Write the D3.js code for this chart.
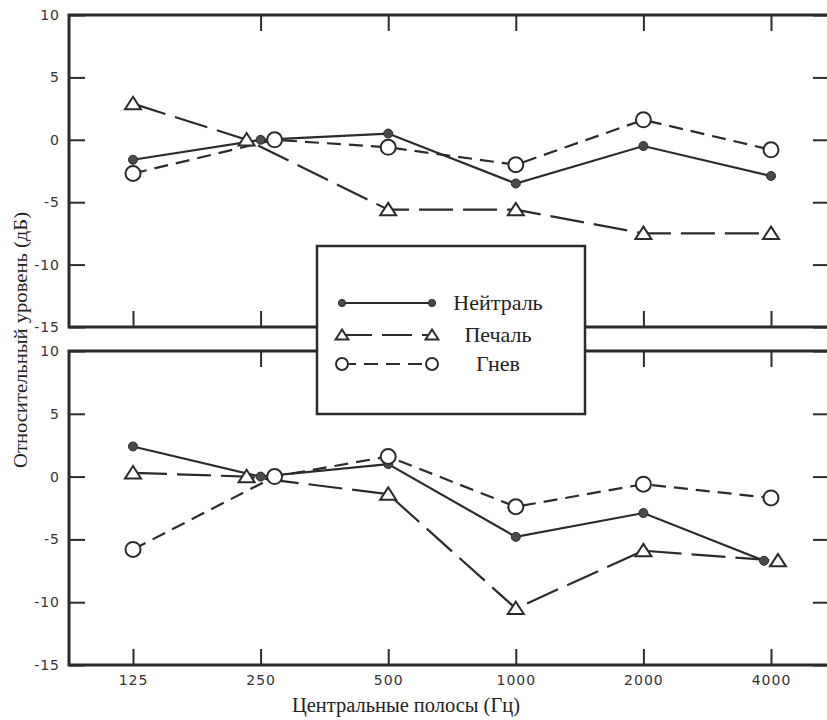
<!DOCTYPE html>
<html>
<head>
<meta charset="utf-8">
<script src="https://cdn.jsdelivr.net/npm/d3@7"></script>
<style>
  body { margin: 0; background: #fff; }
  svg { display: block; }
  .tick text { font-family: "DejaVu Sans", sans-serif; font-size: 14px; fill: #333; letter-spacing: 1px; }
  .ttl { font-family: "Liberation Serif", "Times New Roman", serif; fill: #222; }
</style>
</head>
<body>
<div id="chart"></div>
<script>
// частоты центральных полос (Гц)
var freqs = [125, 250, 500, 1000, 2000, 4000];
var yTicks = [-15, -10, -5, 0, 5, 10];
var seriesNames = ["Нейтраль", "Печаль", "Гнев"];

// верхняя панель, дБ
var topNeutral = [-1.6, 0, 0.5, -3.5, -0.5, -2.9];
var topSad     = [2.9, 0, -5.6, -5.6, -7.5, -7.5];
var topAnger   = [-2.7, 0, -0.6, -2.0, 1.6, -0.8];

// нижняя панель, дБ
var botNeutral = [2.4, 0, 1.0, -4.8, -2.9, -6.7];
var botSad     = [0.3, 0, -1.4, -10.5, -5.9, -6.7];
var botAnger   = [-5.8, 0, 1.6, -2.4, -0.6, -1.7];

var W = 827, H = 720;
var left = 69, right = 830;
var ink = "#2b2b2b";

// стиль серий
var styles = {
    "Нейтраль": {dash: null, marker: "dot"},
    "Печаль": {dash: "34,10", marker: "tri"},
    "Гнев": {dash: "14,8", marker: "ring"}
};
// порядок, в котором раздвигаются совпадающие точки
var dodgeOrder = {
    250: ["Печаль", "Нейтраль", "Гнев"],
    4000: ["Нейтраль", "Печаль", "Гнев"]
};

var svg = d3.select("#chart").append("svg")
        .attr("width", W)
        .attr("height", H);

var x = d3.scaleLog().base(2).domain([125, 4000]).range([133, 771]);

function marker(sel, kind, size) {
    if (kind == "dot") {
        sel.append("circle").attr("r", 4.5 * size)
                .attr("fill", "#4a4a4a").attr("stroke", ink).attr("stroke-width", 1);
    } else if (kind == "ring") {
        sel.append("circle").attr("r", 7.5 * size)
                .attr("fill", "#fff").attr("stroke", ink).attr("stroke-width", 2);
    } else {
        var s = 8 * size;
        sel.append("path")
                .attr("d", "M0," + (-s * 0.85) + "L" + s + "," + (s * 0.7) + "L" + (-s) + "," + (s * 0.7) + "Z")
                .attr("fill", "#fff").attr("stroke", ink).attr("stroke-width", 2).attr("stroke-linejoin", "miter");
    }
}

function styleTicks(a) {
    a.select(".domain").remove();
    a.selectAll("line").attr("stroke", ink).attr("stroke-width", 2);
}

function panel(top, bottom, data, withLabels) {
    var y = d3.scaleLinear().domain([-15, 10]).range([bottom, top]);
    var g = svg.append("g");

    // оси с засечками внутрь
    g.append("g")
            .attr("transform", "translate(" + left + ",0)")
            .call(d3.axisLeft(y).tickValues(yTicks).tickSize(-16).tickPadding(9)
                    .tickFormat(function (d) { return String(d); }))
            .call(styleTicks);
    g.append("g")
            .attr("transform", "translate(" + right + ",0)")
            .call(d3.axisRight(y).tickValues(yTicks).tickSize(-17).tickFormat(""))
            .call(styleTicks);
    g.append("g")
            .attr("transform", "translate(0," + top + ")")
            .call(d3.axisTop(x).tickValues(freqs.slice(1)).tickSize(-16).tickFormat(""))
            .call(styleTicks);
    g.append("g")
            .attr("transform", "translate(0," + bottom + ")")
            .call(d3.axisBottom(x).tickValues(freqs).tickSize(-16).tickPadding(10)
                    .tickFormat(function (d) { return withLabels ? String(d) : ""; }))
            .call(styleTicks);

    // рамка
    g.append("path")
            .attr("d", "M" + right + "," + top + "H" + left + "V" + bottom + "H" + right)
            .attr("fill", "none").attr("stroke", ink).attr("stroke-width", 3);

    // раздвигаем совпадающие точки по горизонтали
    var dodge = data.map(function () { return freqs.map(function () { return 0; }); });
    freqs.forEach(function (f, i) {
        var used = [];
        data.forEach(function (s, k) {
            if (used.indexOf(k) >= 0) return;
            var grp = [k];
            for (var j = k + 1; j < data.length; j++) {
                if (Math.abs(data[j].values[i] - s.values[i]) < 0.4) grp.push(j);
            }
            var order = dodgeOrder[f] || seriesNames;
            grp.sort(function (a, b) {
                return order.indexOf(data[a].name) - order.indexOf(data[b].name);
            });
            grp.forEach(function (m, n) {
                used.push(m);
                if (grp.length > 1) dodge[m][i] = (n - (grp.length - 1) / 2) * 14;
            });
        });
    });

    var line = d3.line()
            .x(function (d) { return d.px; })
            .y(function (d) { return y(d.v); });

    data.forEach(function (s, k) {
        s.pts = s.values.map(function (v, i) {
            return {px: x(freqs[i]) + dodge[k][i], v: v};
        });
        g.append("path")
                .datum(s.pts)
                .attr("d", line)
                .attr("fill", "none")
                .attr("stroke", ink)
                .attr("stroke-width", 2.2)
                .attr("stroke-dasharray", styles[s.name].dash);
    });
    data.forEach(function (s) {
        g.selectAll(null)
                .data(s.pts)
                .enter().append("g")
                .attr("transform", function (d) { return "translate(" + d.px + "," + y(d.v) + ")"; })
                .each(function () { marker(d3.select(this), styles[s.name].marker, 1); });
    });
}

panel(15, 327, [
    {name: seriesNames[0], values: topNeutral},
    {name: seriesNames[1], values: topSad},
    {name: seriesNames[2], values: topAnger}
], false);
panel(351, 665, [
    {name: seriesNames[0], values: botNeutral},
    {name: seriesNames[1], values: botSad},
    {name: seriesNames[2], values: botAnger}
], true);

// подписи осей
svg.append("text")
        .attr("class", "ttl")
        .attr("transform", "translate(27,340) rotate(-90)")
        .attr("text-anchor", "middle")
        .attr("font-size", 19)
        .attr("textLength", 256)
        .attr("lengthAdjust", "spacingAndGlyphs")
        .text("Относительный уровень (дБ)");
svg.append("text")
        .attr("class", "ttl")
        .attr("x", 406)
        .attr("y", 712)
        .attr("text-anchor", "middle")
        .attr("font-size", 20)
        .attr("textLength", 228)
        .attr("lengthAdjust", "spacingAndGlyphs")
        .text("Центральные полосы (Гц)");

// легенда
var lg = svg.append("g");
lg.append("rect")
        .attr("x", 317).attr("y", 246)
        .attr("width", 268).attr("height", 168)
        .attr("fill", "#fff").attr("stroke", ink).attr("stroke-width", 2.5);
var rowY = [303, 335, 364];
seriesNames.forEach(function (name, i) {
    var row = lg.append("g").attr("transform", "translate(0," + rowY[i] + ")");
    row.append("line")
            .attr("x1", 342).attr("x2", 432)
            .attr("stroke", ink).attr("stroke-width", 2.2)
            .attr("stroke-dasharray", name == "Печаль" ? "30,10" : styles[name].dash);
    [342, 432].forEach(function (mx) {
        marker(row.append("g").attr("transform", "translate(" + mx + ",0)"), styles[name].marker, 0.8);
    });
    row.append("text")
            .attr("class", "ttl")
            .attr("x", 498)
            .attr("y", 7)
            .attr("text-anchor", "middle")
            .attr("font-size", 22)
            .text(name);
});
</script>
</body>
</html>
